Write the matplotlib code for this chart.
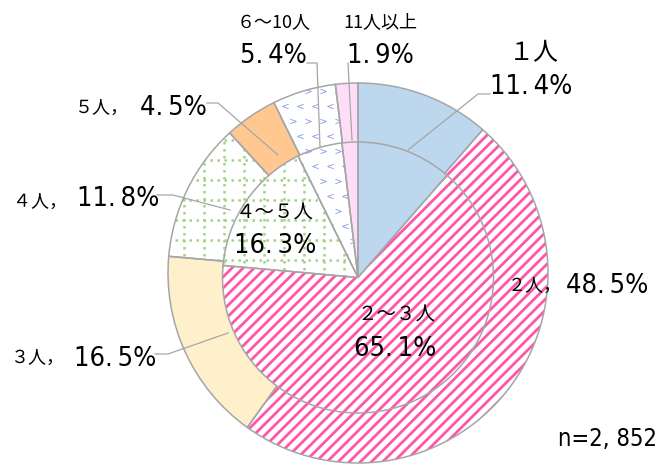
import numpy as np
import matplotlib.pyplot as plt
from matplotlib.collections import LineCollection

# 世帯人数の構成比（外側：人数別、内側：区分別）
outer_labels = ['１人', '２人', '３人', '４人', '５人', '６～10人', '11人以上']
outer_values = [11.4, 48.5, 16.5, 11.8, 4.5, 5.4, 1.9]
inner_labels = ['１人', '２～３人', '４～５人', '６～10人', '11人以上']
inner_values = [11.4, 65.1, 16.3, 5.4, 1.9]
n_total = 2852

outer_fills = ['blue', 'stripe', 'yellow', 'grid', 'orange', 'dots', 'pink']
inner_fills = ['blue', 'stripe', 'grid', 'dots', 'pink']

W, H = 659, 466
EDGE = '#A6A6A6'
NUM_FONT = dict(family=['DejaVu Sans', 'Noto Sans CJK JP'], fontstretch='condensed')
JP_FONT = dict(family=['Noto Sans CJK JP', 'DejaVu Sans'])
SOLID = {'blue': '#BDD7EE', 'yellow': '#FFF0CC', 'orange': '#FFC891', 'pink': '#FFDDF8'}
NUM_SIZE = 19.5
NUM_DY = 3  # 数字は descender 分だけ下げる

plt.rcParams['hatch.linewidth'] = 2.0

fig = plt.figure(figsize=(W / 100, H / 100), dpi=100)
ax = fig.add_axes([0, 0, 1, 1])


def pct(v):
    return f'{v:.1f}'.replace('.', '.\u2009') + '%'


def texture(wedge, kind, z):
    if kind == 'grid':
        segs = [[(x, 0), (x, H)] for x in np.arange(4, W, 20)]
        segs += [[(0, y), (W, y)] for y in np.arange(6, H, 20)]
        lc = LineCollection(segs, colors='#A3D286', linewidths=1.8,
                            linestyles=(0, (1, 1.8)), zorder=z)
        ax.add_collection(lc)
        lc.set_clip_path(wedge)
    elif kind == 'dots':
        gx, gy = np.meshgrid(np.arange(0, W, 15.0), np.arange(0, H, 15.0))
        row = (gy // 15).astype(int) % 2
        gx = gx + row * 7.5
        for parity, mk in ((0, '$<$'), (1, '$>$')):
            sel = row == parity
            sc = ax.scatter(gx[sel], gy[sel], s=20, marker=mk, color='#7B9BE3',
                            linewidths=0, zorder=z)
            sc.set_clip_path(wedge)


def draw_pie(values, fills, center, radius, z):
    wedges, _ = ax.pie(values, center=center, radius=radius, startangle=90,
                       counterclock=False, wedgeprops=dict(linewidth=0, zorder=z))
    for w, kind in zip(wedges, fills):
        if kind == 'stripe':
            w.set_facecolor('white')
            w.set_edgecolor('#FF55AA')
            w.set_hatch('///')
        elif kind in SOLID:
            w.set_facecolor(SOLID[kind])
        else:
            w.set_facecolor('white')
            texture(w, kind, z + 0.5)
    ax.pie(values, center=center, radius=radius, startangle=90, counterclock=False,
           wedgeprops=dict(facecolor='none', edgecolor=EDGE, linewidth=1.1, zorder=z + 1))


draw_pie(outer_values, outer_fills, (358, H - 273), 190, 1)
draw_pie(inner_values, inner_fills, (358, H - 277.5), 135.5, 4)


def txt(x, y, s, size, font, ha='center'):
    ax.text(x, H - y, s, fontsize=size, ha=ha, va='center', zorder=10, **font)


def num(x, y, v, ha='center'):
    txt(x, y + NUM_DY, pct(v), NUM_SIZE, NUM_FONT, ha=ha)


def leader(*pts):
    xs = [p[0] for p in pts]
    ys = [H - p[1] for p in pts]
    ax.plot(xs, ys, color=EDGE, linewidth=0.9, zorder=8)


# 外側ラベル
txt(534, 53, outer_labels[0], 18, JP_FONT)
num(531, 84, outer_values[0])
leader((490, 94), (478, 94), (408, 150))

txt(508, 286, outer_labels[1] + '，', 13, JP_FONT, ha='left')
num(566, 283, outer_values[1], ha='left')

txt(10, 358, outer_labels[2] + '，', 13, JP_FONT, ha='left')
num(74, 356, outer_values[2], ha='left')
leader((155, 354), (168, 354), (228, 333))

txt(13, 202, outer_labels[3] + '，', 13, JP_FONT, ha='left')
num(77, 196, outer_values[3], ha='left')
leader((157, 195), (173, 195), (230, 210))

txt(75, 108, outer_labels[4] + '，', 13, JP_FONT, ha='left')
num(140, 105, outer_values[4], ha='left')
leader((207, 103), (218, 103), (278, 155))

txt(274, 22, outer_labels[5], 13, JP_FONT)
num(273, 53, outer_values[5])
leader((307, 63), (317, 63), (320, 147))

txt(380, 22, outer_labels[6], 13, JP_FONT)
num(380, 53, outer_values[6])
leader((348, 63), (352, 140))

# 内側ラベル
txt(396, 315, inner_labels[1], 14, JP_FONT)
num(395, 346, inner_values[1])
txt(275, 213, inner_labels[2], 14, JP_FONT)
num(275, 243, inner_values[2])

txt(657, 439, f'n={n_total:,}'.replace(',', ', '), 17, NUM_FONT, ha='right')

ax.set_xlim(0, W)
ax.set_ylim(0, H)
ax.set_aspect('equal')
ax.axis('off')

fig.savefig('out.png', dpi=100)
